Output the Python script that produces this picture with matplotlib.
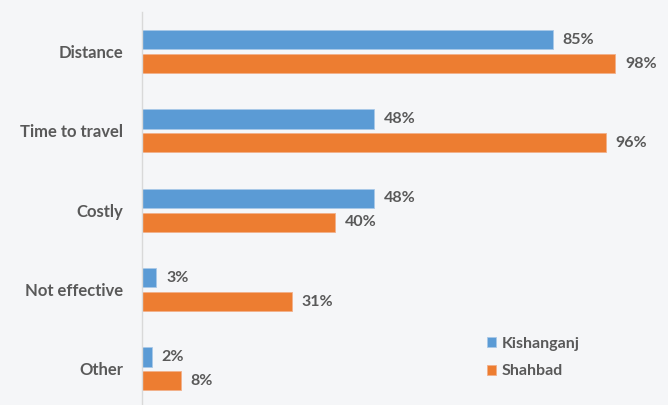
import numpy as np
import matplotlib.pyplot as plt

categories = ['Distance', 'Time to travel', 'Costly', 'Not effective', 'Other']
kishanganj = [85, 48, 48, 3, 2]
shahbad = [98, 96, 40, 31, 8]

blue = '#5b9bd5'
orange = '#ed7d31'
text_grey = '#595959'
bg = '#f5f6f8'

plt.rcParams['font.family'] = ['Lato', 'DejaVu Sans']

fig = plt.figure(figsize=(6.68, 4.05), dpi=100, facecolor=bg)
ax = fig.add_axes([142 / 668, 0, 1 - 142 / 668, 1 - 12 / 405])
ax.set_facecolor(bg)

y = np.arange(len(categories))
h = 0.24
off = 0.151
b1 = ax.barh(y - off, kishanganj, height=h, color=blue, label='Kishanganj',
             edgecolor='#a9c8e8', linewidth=0.6)
b2 = ax.barh(y + off, shahbad, height=h, color=orange, label='Shahbad',
             edgecolor='#f2b08a', linewidth=0.6)

# value labels just past the end of each bar
for bars, vals in ((b1, kishanganj), (b2, shahbad)):
    for bar, v in zip(bars, vals):
        ax.text(v + 2.0, bar.get_y() + bar.get_height() / 2, f'{v}%',
                va='center', ha='left', fontsize=11.5, fontweight='bold',
                color=text_grey)

ax.set_xlim(0, 108.9)
ax.set_ylim(4.454, -0.5)
ax.set_yticks(y)
ax.set_yticklabels(categories, fontsize=12, fontweight='bold', color=text_grey)
ax.tick_params(axis='y', length=0, pad=13.5)
ax.set_xticks([])
for s in ('top', 'right', 'bottom'):
    ax.spines[s].set_visible(False)
ax.spines['left'].set_color('#d9d9d9')
ax.spines['left'].set_linewidth(1)

leg = ax.legend(loc='upper left', bbox_to_anchor=(0.643, 0.19), frameon=False,
                handlelength=0.6, handleheight=0.6, handletextpad=0.35,
                labelspacing=0.85, borderaxespad=0,
                prop={'size': 11.5, 'weight': 'bold'})
for t in leg.get_texts():
    t.set_color(text_grey)

fig.savefig('out.png', dpi=100, facecolor=bg)
